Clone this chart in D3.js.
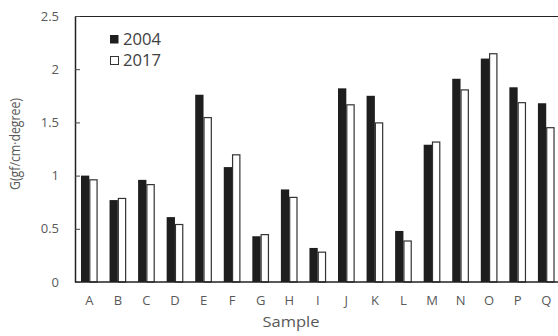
<!DOCTYPE html>
<html><head><meta charset="utf-8">
<script src="https://cdn.jsdelivr.net/npm/d3@7"></script>
<style>body{margin:0;background:#fff}svg{display:block}</style>
</head><body>
<svg id="c" width="558" height="336"></svg>
<script>
const categories = ["A","B","C","D","E","F","G","H","I","J","K","L","M","N","O","P","Q"];
const series = ["2004","2017"];
const values2004 = [1.00,0.77,0.96,0.61,1.76,1.08,0.43,0.87,0.32,1.82,1.75,0.48,1.29,1.91,2.10,1.83,1.68];
const values2017 = [0.965,0.79,0.92,0.545,1.55,1.20,0.45,0.80,0.285,1.67,1.50,0.39,1.32,1.81,2.15,1.69,1.455];
const yTicks = [0,0.5,1,1.5,2,2.5];
const yTickLabels = ["0","0.5","1","1.5","2","2.5"];

const svg = d3.select("#c");
const L = 75, R = 560.5, T = 16, B = 282;
const font = "'Open Sans', sans-serif";
const x = d3.scaleBand().domain(categories).range([L, R]).padding(0);
const bw = x.bandwidth();
const x1 = d3.scaleBand().domain(series).range([bw/2 - 8.3, bw/2 + 8.3]).padding(0);
const y = d3.scaleLinear().domain([0, 2.5]).range([B, T]);

const data = categories.map((c,i)=>({c, v:[values2004[i], values2017[i]]}));
const g = svg.append("g");
data.forEach(d=>{
  series.forEach((s,j)=>{
    const v = d.v[j];
    if (j===0) {
      g.append("rect").attr("x", x(d.c)+x1(s)).attr("y", y(v))
        .attr("width", x1.bandwidth()).attr("height", y(0)-y(v)).attr("fill","#1e1e1e");
    } else {
      g.append("rect").attr("x", x(d.c)+x1(s)+0.5).attr("y", y(v)+0.5)
        .attr("width", x1.bandwidth()-1).attr("height", y(0)-y(v)-0.5)
        .attr("fill","#fff").attr("stroke","#333").attr("stroke-width",1.2);
    }
  });
});

// frame lines
svg.append("line").attr("x1",L).attr("x2",558).attr("y1",T+0.5).attr("y2",T+0.5).attr("stroke","#222").attr("stroke-width",1.2);
svg.append("line").attr("x1",L).attr("x2",558).attr("y1",B).attr("y2",B).attr("stroke","#222").attr("stroke-width",1.5);

// y axis with inward ticks
const yAxis = d3.axisLeft(y).tickValues(yTicks).tickFormat((d,i)=>yTickLabels[i]).tickSizeInner(-5).tickSizeOuter(0).tickPadding(16);
const ya = svg.append("g").attr("transform",`translate(${L},0)`).call(yAxis);
ya.select(".domain").attr("stroke","#222").attr("stroke-width",1.5);
ya.selectAll(".tick line").attr("stroke","#444");
ya.selectAll(".tick text").attr("font-family",font).attr("font-size",13).attr("fill","#595959");

// x axis labels
const xAxis = d3.axisBottom(x).tickSize(0).tickPadding(14);
const xa = svg.append("g").attr("transform",`translate(0,${B})`).call(xAxis);
xa.select(".domain").remove();
xa.selectAll(".tick text").attr("font-family",font).attr("font-size",13).attr("fill","#595959");

// axis titles
svg.append("text").attr("x",291).attr("y",327).attr("text-anchor","middle")
  .attr("font-family",font).attr("font-size",15).attr("fill","#595959")
  .attr("textLength",57).attr("lengthAdjust","spacingAndGlyphs").text("Sample");
svg.append("text").attr("transform","translate(20,144) rotate(-90)").attr("text-anchor","middle")
  .attr("font-family",font).attr("font-size",15).attr("fill","#595959")
  .attr("textLength",92).attr("lengthAdjust","spacingAndGlyphs").text("G(gf/cm·degree)");

// legend
const lg = svg.append("g");
series.forEach((s,i)=>{
  const yy = 35 + i*21;
  if (i===0) lg.append("rect").attr("x",110).attr("y",yy).attr("width",8.5).attr("height",8.5).attr("fill","#1e1e1e");
  else lg.append("rect").attr("x",110.5).attr("y",yy+0.5).attr("width",8).attr("height",8).attr("fill","#fff").attr("stroke","#333").attr("stroke-width",1);
  lg.append("text").attr("x",123).attr("y",yy+9.5).attr("font-family",font).attr("font-size",16).attr("fill","#404040")
    .attr("textLength",38).attr("lengthAdjust","spacingAndGlyphs").text(s);
});
</script>
</body></html>
